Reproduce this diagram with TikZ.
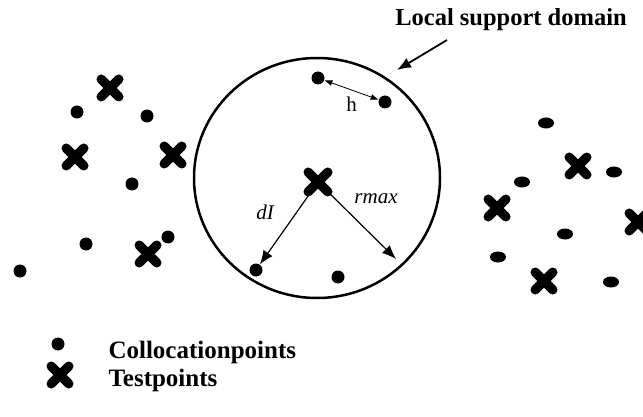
\documentclass[tikz,border=0pt]{standalone}
\usepackage{fontspec}
\setmainfont{Liberation Serif}
\usetikzlibrary{arrows.meta, shapes, positioning}

\tikzset{
	colpt/.style={circle, fill=black, inner sep=0pt, minimum size=13pt},
	colel/.style={ellipse, fill=black, inner sep=0pt, minimum width=16pt, minimum height=11pt},
	testpt/.style={cross out, draw=black, line width=9.5pt, line cap=round, inner sep=0pt, minimum size=8pt},
	lbl/.style={font=\bfseries\fontsize{25}{30}\selectfont},
	sym/.style={font=\fontsize{21}{25}\selectfont},
	tip/.style={-{Latex[length=14pt,width=11pt]}},
}

\begin{document}
\begin{tikzpicture}[x=1pt, y=-1pt]
	\useasboundingbox (0,0) rectangle (643,417);
	
	% support domain
	\node[ellipse, draw, line width=2.5pt, inner sep=0pt, minimum width=246pt, minimum height=240pt] (dom) at (317,178) {};
	\node[lbl, font=\bfseries\fontsize{24.5}{30}\selectfont] 	(lsd) 	at (511,20) 	{Local support domain};
	\coordinate 									(lsdtail) 	at (447,40);
	\coordinate 									(lsdtip) 	at (397,70);
	
	% points inside the domain
	\node[colpt] 	(ca) 	at (318,78) 	{};
	\node[colpt] 	(cb) 	at (385,102) 	{};
	\node[colpt] 	(cc) 	at (256,270) 	{};
	\node[colpt] 	(cd) 	at (338,277) 	{};
	\node[testpt, minimum size=10pt] 	(tc) 	at (318,182) 	{};
	\coordinate 	(rm) 	at (396,259);
	
	\draw[{Latex[length=8pt,width=6pt]}-{Latex[length=8pt,width=6pt]}, line width=0.8pt] 	(ca) 		-- node[sym, below=3pt] {h} (cb);
	\draw[tip, line width=1.2pt] 	(tc) 		-- (cc);
	\draw[tip, line width=1.2pt] 	(tc) 		-- (rm);
	\draw[tip, line width=1.8pt] 	(lsdtail) 	-- (lsdtip);
	\node[sym, font=\itshape\fontsize{21}{25}\selectfont] 	(dlab) 	at (265,212) 	{dI};
	\node[sym, font=\itshape\fontsize{21}{25}\selectfont] 	(rlab) 	at (376,199) 	{rmax};
	
	% left cloud
	\node[testpt] 	(l1) 	at (110,88) 	{};
	\node[colpt] 	(l2) 	at (77,112) 	{};
	\node[colpt] 	(l3) 	at (147,116) 	{};
	\node[testpt] 	(l4) 	at (75,157) 	{};
	\node[testpt] 	(l5) 	at (173,155) 	{};
	\node[colpt] 	(l6) 	at (132,184) 	{};
	\node[colpt] 	(l7) 	at (86,244) 	{};
	\node[colpt] 	(l8) 	at (168,237) 	{};
	\node[testpt] 	(l9) 	at (148,254) 	{};
	\node[colpt] 	(l10) 	at (20,271) 	{};
	
	% right cloud
	\node[colel] 	(r1) 	at (546,123) 	{};
	\node[testpt] 	(r2) 	at (578,166) 	{};
	\node[colel] 	(r3) 	at (614,172) 	{};
	\node[colel] 	(r4) 	at (522,182) 	{};
	\node[testpt] 	(r5) 	at (497,208) 	{};
	\node[testpt] 	(r6) 	at (638,222) 	{};
	\node[colel] 	(r7) 	at (565,234) 	{};
	\node[colel] 	(r8) 	at (498,257) 	{};
	\node[testpt] 	(r9) 	at (544,281) 	{};
	\node[colel] 	(r10) 	at (611,282) 	{};
	
	% legend
	\node[colpt] 									(kc) 	at (58,344) 	{};
	\node[testpt] 									(kt) 	at (60,375) 	{};
	\node[lbl, anchor=base west] 					(kctxt) at (105,358) 	{Collocationpoints};
	\node[lbl, anchor=base west] 					(kttxt) at (105,386) 	{Testpoints};
\end{tikzpicture}
\end{document}
